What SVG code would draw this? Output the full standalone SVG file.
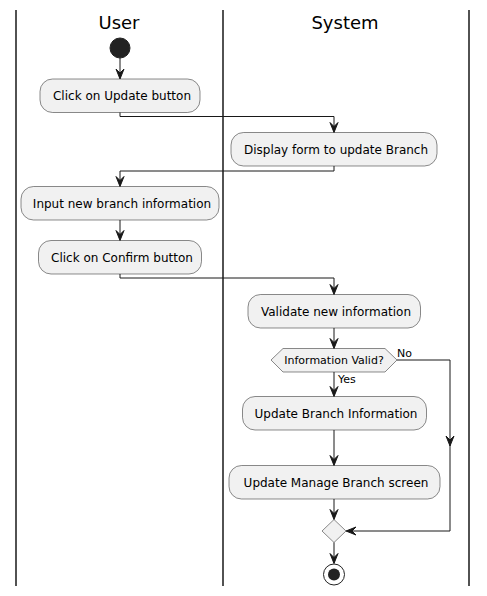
<svg xmlns="http://www.w3.org/2000/svg" width="487" height="596" viewBox="0 0 487 596">
<defs>
<style>
.lane{stroke:#181818;stroke-width:1.5;fill:none}
.title{font-family:"DejaVu Sans",sans-serif;font-size:18px;fill:#000;text-anchor:middle}
.box{fill:#F1F1F1;stroke:#181818;stroke-width:0.5}
.t{font-family:"DejaVu Sans",sans-serif;font-size:12px;fill:#000;text-anchor:middle}
.s{font-family:"DejaVu Sans",sans-serif;font-size:11px;fill:#000}
.c{stroke:#181818;stroke-width:1;fill:none}
.ah{fill:#181818;stroke:#181818;stroke-width:1}
</style>
</defs>
<rect width="487" height="596" fill="#fff"/>
<g id="lanes">
<line class="lane" x1="16" y1="10" x2="16" y2="586"/>
<line class="lane" x1="223" y1="10" x2="223" y2="586"/>
<line class="lane" x1="469" y1="10" x2="469" y2="586"/>
<text class="title" x="119" y="29">User</text>
<text class="title" x="345" y="29">System</text>
</g>
<g id="start"><circle cx="120" cy="48" r="10" fill="#222222" stroke="#222222"/></g>
<g id="n1"><rect class="box" x="40" y="79" width="160" height="33.5" rx="12.5"/><text class="t" x="122" y="100">Click on Update button</text></g>
<g id="n2"><rect class="box" x="231" y="132.5" width="206" height="33.5" rx="12.5"/><text class="t" x="336" y="153.5">Display form to update Branch</text></g>
<g id="n3"><rect class="box" x="21" y="186.5" width="198" height="33.5" rx="12.5"/><text class="t" x="122" y="207.5">Input new branch information</text></g>
<g id="n4"><rect class="box" x="38.5" y="240.5" width="163" height="33.5" rx="12.5"/><text class="t" x="122" y="261.5">Click on Confirm button</text></g>
<g id="n5"><rect class="box" x="248" y="294.5" width="172.5" height="33.5" rx="12.5"/><text class="t" x="336" y="315.5">Validate new information</text></g>
<g id="d1"><polygon class="box" points="271,360 283,348.5 385,348.5 397,360 385,372 283,372"/><text class="s" x="334" y="364" text-anchor="middle">Information Valid?</text></g>
<g id="n6"><rect class="box" x="242.5" y="396.5" width="184" height="33.5" rx="12.5"/><text class="t" x="336" y="417.5">Update Branch Information</text></g>
<g id="n7"><rect class="box" x="229" y="465.5" width="211" height="33.5" rx="12.5"/><text class="t" x="336" y="486.5">Update Manage Branch screen</text></g>
<g id="merge"><polygon class="box" points="334,519.5 346,531 334,542.5 322,531"/></g>
<g id="end"><circle cx="334" cy="574.5" r="10.5" fill="none" stroke="#222222" stroke-width="1"/><circle cx="334" cy="574.5" r="6" fill="#222222"/></g>
<g id="connectors">
<line class="c" x1="120" y1="58" x2="120" y2="78"/>
<polygon class="ah" points="116,69 120,79 124,69 120,73"/>
<polyline class="c" points="120,112.5 120,116.5 334,116.5 334,131"/>
<polygon class="ah" points="330,122.5 334,132.5 338,122.5 334,126.5"/>
<polyline class="c" points="334,166 334,171 120,171 120,185"/>
<polygon class="ah" points="116,176.5 120,186.5 124,176.5 120,180.5"/>
<line class="c" x1="120" y1="220" x2="120" y2="239"/>
<polygon class="ah" points="116,230.5 120,240.5 124,230.5 120,234.5"/>
<polyline class="c" points="120,274 120,278 334,278 334,293"/>
<polygon class="ah" points="330,284.5 334,294.5 338,284.5 334,288.5"/>
<line class="c" x1="334" y1="328" x2="334" y2="347"/>
<polygon class="ah" points="330,338.5 334,348.5 338,338.5 334,342.5"/>
<line class="c" x1="334" y1="372" x2="334" y2="395"/>
<polygon class="ah" points="330,386.5 334,396.5 338,386.5 334,390.5"/>
<text class="s" x="338" y="383">Yes</text>
<text class="s" x="397" y="357">No</text>
<polyline class="c" points="397,360 450,360 450,531 347,531"/>
<polygon class="ah" points="446,436 450,446 454,436 450,440"/>
<polygon class="ah" points="356,527 346,531 356,535 352,531"/>
<line class="c" x1="334" y1="430" x2="334" y2="464"/>
<polygon class="ah" points="330,455.5 334,465.5 338,455.5 334,459.5"/>
<line class="c" x1="334" y1="499" x2="334" y2="518"/>
<polygon class="ah" points="330,509.5 334,519.5 338,509.5 334,513.5"/>
<line class="c" x1="334" y1="542.5" x2="334" y2="563"/>
<polygon class="ah" points="330,553.5 334,563.5 338,553.5 334,557.5"/>
</g>
</svg>
